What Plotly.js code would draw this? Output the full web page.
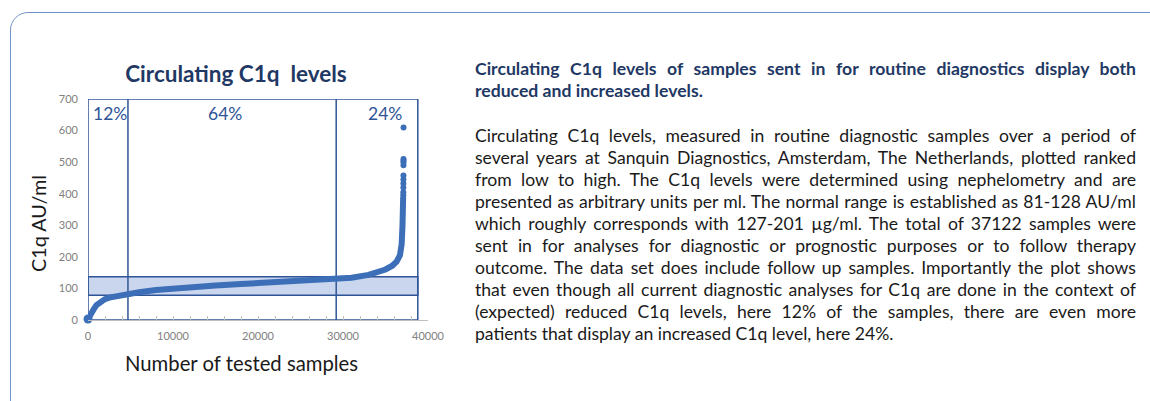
<!DOCTYPE html>
<html>
<head>
<meta charset="utf-8">
<script src="https://cdn.plot.ly/plotly-3.0.1.min.js"></script>
<style>
  html, body { margin: 0; padding: 0; background: #ffffff; }
  #wrap { position: relative; width: 1150px; height: 401px; overflow: hidden; }
  #chart { position: absolute; left: 0; top: 0; width: 1150px; height: 401px; }
  #frame { position: absolute; left: 10px; top: 12px; width: 1300px; height: 600px;
           border: 1.5px solid #7493c6; border-radius: 18px; pointer-events: none; box-sizing: border-box; }
  .txt { position: absolute; left: 475px; width: 661px; font-family: Lato, "Liberation Sans", sans-serif; }
  .ln { display: block; white-space: nowrap; height: 22px; line-height: 22px; text-align: justify; text-align-last: justify; }
  .ln.last { text-align-last: left; }
  #head { top: 58px; font-weight: bold; color: #1f3864; font-size: 17.6px; }
  #body { top: 125px; color: #1a1a1a; font-size: 17.6px; }
</style>
</head>
<body>
<div id="wrap">
  <div id="chart"></div>
  <div id="frame"></div>
  <div class="txt" id="head"></div>
  <div class="txt" id="body"></div>
</div>
<script>
// ---- data ----
var rankX = [0, 300, 700, 1000, 1500, 2000, 2500, 3000, 3500, 4000, 4700, 6000, 8000, 10000, 12000, 15000, 18000, 20000, 23000, 26000, 29200, 31000, 33000, 34000, 35000, 35800, 36300, 36700, 36900, 37000, 37080];
var rankY = [3, 20, 35, 47, 58, 66, 71, 74, 77, 79, 83, 88, 95, 100, 104, 109, 114, 117, 121, 125, 129, 134, 143, 150, 160, 172, 185, 205, 240, 300, 390];
var highX = [37090, 37095, 37100, 37104, 37107, 37110, 37113, 37115, 37117, 37119, 37122];
var highY = [395, 405, 420, 432, 445, 458, 490, 500, 505, 510, 610];

var groupLabels = ["12%", "64%", "24%"];
var groupLabelX = [2600, 16100, 34950];
var groupBounds = [4700, 29200];        // vertical separators
var boxRightX = 38800;
var normalRange = [78, 137];           // shaded band as drawn
var xTicks = [0, 10000, 20000, 30000, 40000];
var yTicks = [0, 100, 200, 300, 400, 500, 600, 700];

var headingLines = [
  "Circulating C1q levels of samples sent in for routine diagnostics display both",
  "reduced and increased levels."
];
var bodyLines = [
  "Circulating C1q levels, measured in routine diagnostic samples over a period of",
  "several years at Sanquin Diagnostics, Amsterdam, The Netherlands, plotted ranked",
  "from low to high. The C1q levels were determined using nephelometry and are",
  "presented as arbitrary units per ml. The normal range is established as 81-128 AU/ml",
  "which roughly corresponds with 127-201 \u00b5g/ml. The total of 37122 samples were",
  "sent in for analyses for diagnostic or prognostic purposes or to follow therapy",
  "outcome. The data set does include follow up samples. Importantly the plot shows",
  "that even though all current diagnostic analyses for C1q are done in the context of",
  "(expected) reduced C1q levels, here 12% of the samples, there are even more",
  "patients that display an increased C1q level, here 24%."
];

function fill(id, lines) {
  var el = document.getElementById(id);
  lines.forEach(function (t, i) {
    var s = document.createElement('span');
    s.className = 'ln' + (i === lines.length - 1 ? ' last' : '');
    s.textContent = t;
    el.appendChild(s);
  });
}
fill('head', headingLines);
fill('body', bodyLines);

var blue = '#3d6fb8';
var boxColor = '#2f5597';
var font = 'Lato, "Liberation Sans", sans-serif';

var traces = [
  { x: rankX, y: rankY, type: 'scatter', mode: 'lines',
    line: { color: blue, width: 6 }, hoverinfo: 'x+y', showlegend: false },
  { x: [rankX[0]], y: [rankY[0]], type: 'scatter', mode: 'markers',
    marker: { color: blue, size: 9 }, cliponaxis: false, showlegend: false },
  { x: highX, y: highY, type: 'scatter', mode: 'markers',
    marker: { color: blue, size: 6 }, cliponaxis: false, showlegend: false }
];

var shapes = [
  { type: 'rect', xref: 'x', yref: 'y', x0: 0, x1: boxRightX, y0: normalRange[0], y1: normalRange[1],
    fillcolor: '#cad5ee', line: { color: boxColor, width: 1.5 }, layer: 'below' },
  { type: 'rect', xref: 'x', yref: 'y', x0: 0, x1: boxRightX, y0: 0, y1: 700,
    fillcolor: 'rgba(0,0,0,0)', line: { color: boxColor, width: 1.5 }, layer: 'below' }
];
groupBounds.forEach(function (b) {
  shapes.push({ type: 'line', xref: 'x', yref: 'y', x0: b, x1: b, y0: 0, y1: 700,
    line: { color: boxColor, width: 1.5 }, layer: 'below' });
});

var annotations = groupLabels.map(function (t, i) {
  return { text: t, x: groupLabelX[i], y: 655, xref: 'x', yref: 'y', showarrow: false,
    font: { family: font, size: 17.5, color: '#2f5597' } };
});
// axis titles, placed where the reference has them
annotations.push({ text: 'Number of tested samples', xref: 'paper', yref: 'paper',
  x: (241 - 88) / 340, y: -(363 - 320) / 221, xanchor: 'center', yanchor: 'middle', showarrow: false,
  font: { family: font, size: 20.3, color: '#1a1a1a' } });
annotations.push({ text: 'C1q AU/ml', xref: 'paper', yref: 'paper', textangle: -90,
  x: (38 - 88) / 340, y: (320 - 224) / 221, xanchor: 'center', yanchor: 'middle', showarrow: false,
  font: { family: font, size: 19.8, color: '#1a1a1a' } });

var layout = {
  width: 1150, height: 401,
  margin: { l: 88, r: 722, t: 99, b: 81 },
  paper_bgcolor: 'rgba(0,0,0,0)', plot_bgcolor: 'rgba(0,0,0,0)',
  title: { text: '<b>Circulating C1q  levels</b>', x: 236 / 1150, xanchor: 'center',
    y: 1 - 74 / 401, yanchor: 'middle', font: { family: font, size: 22.5, color: '#1f3864' } },
  xaxis: { range: [0, 40000], tickvals: xTicks, ticktext: xTicks.map(String),
    showgrid: false, zeroline: false, showline: true, linecolor: '#bfbfbf', linewidth: 1,
    ticks: 'inside', ticklen: 4, tickcolor: '#bfbfbf',
    minor: { dtick: 2000, ticks: 'inside', ticklen: 4, tickcolor: '#bfbfbf' },
    ticklabelstandoff: 6,
    tickfont: { family: font, size: 11, color: '#808080' } },
  yaxis: { range: [0, 700], tickvals: yTicks, ticktext: yTicks.map(String),
    showgrid: false, zeroline: false, showline: false, ticks: '',
    ticklabelstandoff: 9,
    tickfont: { family: font, size: 11, color: '#808080' } },
  shapes: shapes,
  annotations: annotations,
  showlegend: false
};

Plotly.newPlot('chart', traces, layout, { displayModeBar: false, staticPlot: true });
</script>
</body>
</html>
